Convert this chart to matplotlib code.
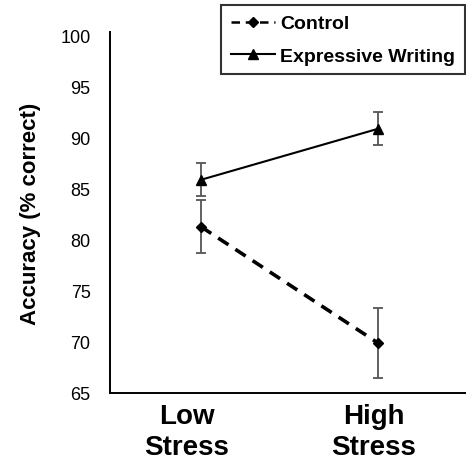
import matplotlib.pyplot as plt

plt.rcParams['font.family'] = ['Liberation Sans', 'DejaVu Sans']

conditions = ['Low\nStress', 'High\nStress']
control = [81.3, 69.9]
control_err = [2.6, 3.4]
expressive = [85.9, 90.9]
expressive_err = [1.6, 1.6]

fig = plt.figure(figsize=(4.66, 4.60), dpi=100)
ax = fig.add_axes([0.236, 0.1435, 0.764, 0.785])

x = [0, 1]
# error bars first, lines drawn on top
ax.errorbar(x, control, yerr=control_err, fmt='none', ecolor='#555555',
            elinewidth=1.3, capsize=3.5, capthick=1.3)
ax.errorbar(x, expressive, yerr=expressive_err, fmt='none', ecolor='#555555',
            elinewidth=1.3, capsize=3.5, capthick=1.3)
ax.plot(x, control, color='black', ls=(0, (3.4, 2.3)), lw=2.6,
        marker='D', ms=5.5, label='Control')
ax.plot(x, expressive, color='black', ls='-', lw=1.5,
        marker='^', ms=6.5, label='Expressive Writing')

ax.set_xlim(-0.514, 1.497)
ax.set_ylim(65, 100.4)
ax.set_yticks(range(65, 101, 5))
# category labels sit slightly left of the data points, as in the original
ax.set_xticks([-0.08, 0.977])
ax.set_xticklabels(conditions, fontsize=20, fontweight='bold', linespacing=1.25)
ax.tick_params(axis='y', length=0, labelsize=13, pad=14)
ax.tick_params(axis='x', length=0, pad=7)
ax.set_ylabel('Accuracy (% correct)', fontsize=16, fontweight='bold', labelpad=14)

ax.spines['top'].set_visible(False)
ax.spines['right'].set_visible(False)
for s in ['left', 'bottom']:
    ax.spines[s].set_linewidth(1.4)

leg = ax.legend(loc='upper right', bbox_to_anchor=(465 / 466, 1 - 6 / 460),
                bbox_transform=fig.transFigure, borderaxespad=0,
                frameon=True, fancybox=False, edgecolor='black',
                prop={'weight': 'bold', 'size': 14},
                handlelength=2.3, handletextpad=0.25, borderpad=0.5, labelspacing=0.75)
leg.get_frame().set_linewidth(1.5)
leg.get_lines()[0].set_linewidth(1.8)
leg.get_lines()[1].set_linewidth(1.5)

fig.savefig('out.png', dpi=100)
